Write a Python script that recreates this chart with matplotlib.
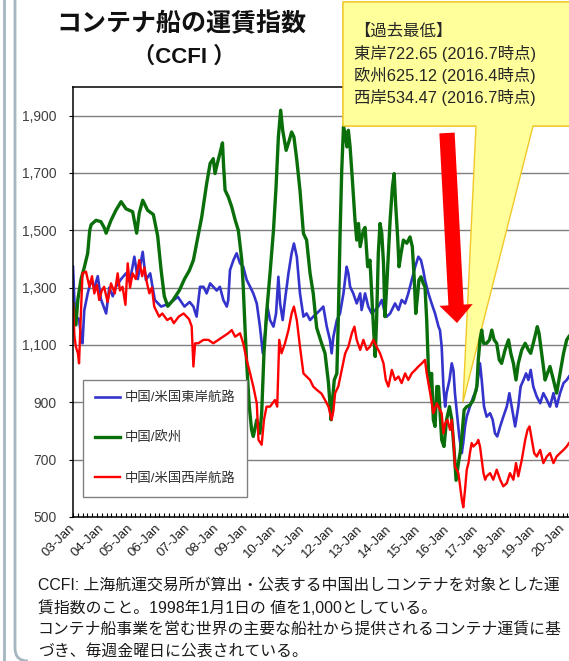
import matplotlib
matplotlib.use("Agg")
import matplotlib.pyplot as plt
from matplotlib.patches import Polygon, FancyArrowPatch, ArrowStyle, PathPatch
from matplotlib.path import Path
from matplotlib.lines import Line2D
from matplotlib.ticker import MultipleLocator, FuncFormatter
from matplotlib.transforms import Bbox, TransformedBbox

# --- data (decimal years) ---
east_x = [2003.00, 2003.05, 2003.10, 2003.21, 2003.28, 2003.33, 2003.39, 2003.51, 2003.63, 2003.74,
          2003.86, 2003.97, 2004.15, 2004.26, 2004.38, 2004.49, 2004.67, 2004.84, 2004.97, 2005.13,
          2005.25, 2005.42, 2005.53, 2005.68, 2005.84, 2006.06, 2006.35, 2006.64, 2006.87, 2007.05,
          2007.18, 2007.29, 2007.41, 2007.53, 2007.64, 2007.76, 2007.87, 2007.99, 2008.10, 2008.22,
          2008.34, 2008.39, 2008.45, 2008.57, 2008.68, 2008.80, 2008.91, 2009.03, 2009.15, 2009.26,
          2009.38, 2009.49, 2009.59, 2009.67, 2009.75, 2009.84, 2009.96, 2010.05, 2010.13, 2010.19,
          2010.28, 2010.36, 2010.48, 2010.59, 2010.67, 2010.77, 2010.88, 2011.00, 2011.11, 2011.23,
          2011.34, 2011.46, 2011.58, 2011.69, 2011.81, 2011.92, 2011.98, 2012.04, 2012.16, 2012.27,
          2012.39, 2012.50, 2012.56, 2012.62, 2012.73, 2012.85, 2012.97, 2013.02, 2013.14, 2013.25,
          2013.37, 2013.49, 2013.60, 2013.72, 2013.83, 2013.89, 2014.01, 2014.18, 2014.30, 2014.41,
          2014.53, 2014.64, 2014.76, 2014.88, 2014.99, 2015.08, 2015.16, 2015.22, 2015.34, 2015.45,
          2015.57, 2015.69, 2015.74, 2015.80, 2015.86, 2015.92, 2015.97, 2016.07, 2016.15, 2016.21,
          2016.26, 2016.35, 2016.41, 2016.50, 2016.55, 2016.61, 2016.67, 2016.78, 2016.90, 2017.00,
          2017.07, 2017.13, 2017.19, 2017.27, 2017.36, 2017.48, 2017.57, 2017.65, 2017.73, 2017.83,
          2017.94, 2018.06, 2018.15, 2018.23, 2018.35, 2018.46, 2018.54, 2018.64, 2018.73, 2018.81,
          2018.89, 2018.98, 2019.10, 2019.22, 2019.33, 2019.45, 2019.56, 2019.68, 2019.79, 2019.91,
          2020.03, 2020.14, 2020.22]
east_y = [1373, 1250, 1199, 1190, 1130, 1106, 1220, 1280, 1327, 1300,
          1340, 1260, 1210, 1300, 1270, 1303, 1330, 1350, 1320, 1408,
          1330, 1425, 1327, 1350, 1257, 1234, 1245, 1268, 1234, 1250,
          1234, 1199, 1303, 1303, 1280, 1315, 1303, 1290, 1303, 1257,
          1234, 1257, 1361, 1396, 1420, 1385, 1373, 1327, 1303, 1280,
          1245, 1164, 1071, 1141, 1234, 1187, 1164, 1210, 1338, 1245,
          1187, 1257, 1350, 1420, 1454, 1408, 1280, 1199, 1210, 1187,
          1199, 1210, 1222, 1234, 1164, 1118, 1071, 1129, 1187, 1210,
          1280, 1373, 1350, 1303, 1280, 1245, 1280, 1222, 1280, 1234,
          1210, 1222, 1234, 1257, 1210, 1199, 1210, 1245, 1222, 1257,
          1245, 1280, 1327, 1373, 1408, 1396, 1361, 1327, 1280, 1245,
          1210, 1164, 1152, 1094, 955, 885, 932, 978, 1036, 1010,
          932, 839, 781, 723, 760, 816, 850, 885, 920, 940,
          990, 1036, 978, 885, 850, 862, 839, 792, 781, 816,
          850, 885, 932, 885, 816, 885, 955, 978, 1001, 978,
          1013, 955, 920, 897, 932, 909, 885, 932, 885, 932,
          967, 978, 990]

euro_x = [2003.00, 2003.05, 2003.10, 2003.17, 2003.28, 2003.39, 2003.51, 2003.58, 2003.63, 2003.80,
          2003.97, 2004.08, 2004.15, 2004.32, 2004.49, 2004.67, 2004.84, 2005.07, 2005.21, 2005.30,
          2005.42, 2005.59, 2005.79, 2005.94, 2006.06, 2006.17, 2006.29, 2006.46, 2006.69, 2006.87,
          2007.04, 2007.18, 2007.29, 2007.47, 2007.64, 2007.76, 2007.87, 2007.93, 2008.01, 2008.10,
          2008.19, 2008.23, 2008.28, 2008.39, 2008.51, 2008.63, 2008.74, 2008.86, 2008.91, 2008.97,
          2009.03, 2009.12, 2009.20, 2009.26, 2009.38, 2009.49, 2009.55, 2009.63, 2009.72, 2009.84,
          2009.96, 2010.05, 2010.13, 2010.21, 2010.28, 2010.40, 2010.51, 2010.59, 2010.67, 2010.77,
          2010.88, 2011.00, 2011.11, 2011.23, 2011.34, 2011.46, 2011.63, 2011.75, 2011.87, 2011.96,
          2012.00, 2012.07, 2012.16, 2012.21, 2012.27, 2012.33, 2012.39, 2012.45, 2012.51, 2012.56,
          2012.62, 2012.70, 2012.79, 2012.85, 2012.91, 2012.97, 2013.08, 2013.14, 2013.23, 2013.31,
          2013.37, 2013.43, 2013.49, 2013.54, 2013.60, 2013.66, 2013.72, 2013.78, 2013.83, 2013.89,
          2013.95, 2014.01, 2014.09, 2014.15, 2014.20, 2014.27, 2014.32, 2014.39, 2014.47, 2014.59,
          2014.70, 2014.78, 2014.85, 2014.90, 2014.97, 2015.01, 2015.08, 2015.16, 2015.22, 2015.28,
          2015.34, 2015.40, 2015.45, 2015.51, 2015.57, 2015.63, 2015.69, 2015.74, 2015.80, 2015.88,
          2015.97, 2016.07, 2016.15, 2016.23, 2016.30, 2016.38, 2016.44, 2016.50, 2016.58, 2016.67,
          2016.78, 2016.90, 2017.02, 2017.07, 2017.13, 2017.19, 2017.25, 2017.36, 2017.46, 2017.54,
          2017.62, 2017.71, 2017.80, 2017.88, 2018.00, 2018.12, 2018.20, 2018.29, 2018.38, 2018.46,
          2018.58, 2018.70, 2018.81, 2018.89, 2019.01, 2019.12, 2019.18, 2019.27, 2019.39, 2019.47,
          2019.56, 2019.68, 2019.79, 2019.91, 2020.03, 2020.14, 2020.22]
euro_y = [1245, 1180, 1170, 1260, 1330, 1370, 1420, 1500, 1520, 1535,
          1530, 1510, 1490, 1535, 1570, 1600, 1575, 1565, 1490, 1560,
          1605, 1570, 1555, 1480, 1360, 1270, 1235, 1255, 1290, 1330,
          1360, 1396, 1454, 1547, 1663, 1733, 1750, 1698, 1733, 1768,
          1805, 1721, 1640, 1617, 1582, 1536, 1500, 1396, 1303, 1164,
          1036, 885, 804, 781, 839, 792, 862, 1071, 1210, 1350,
          1500, 1652, 1826, 1919, 1849, 1779, 1814, 1843, 1826, 1745,
          1640, 1489, 1466, 1350, 1280, 1160, 1106, 1071, 967, 839,
          897, 978, 1001, 1187, 1477, 1710, 1861, 1837, 1791, 1849,
          1791, 1675, 1536, 1466, 1524, 1443, 1500, 1510, 1373, 1396,
          1280, 1164, 1060, 1187, 1420, 1524, 1489, 1385, 1199, 1303,
          1420, 1536, 1652, 1698, 1594, 1477, 1373, 1420, 1466, 1455,
          1477, 1443, 1327, 1210, 1280, 1327, 1338, 1315, 1303, 1187,
          1013, 955, 1001, 839, 816, 955, 955, 870, 769, 746,
          839, 885, 839, 734, 628, 688, 723, 781, 874, 885,
          890, 909, 955, 1048, 1118, 1152, 1106, 1106, 1118, 1152,
          1118, 1106, 1048, 1036, 1083, 1118, 1071, 1036, 978, 1036,
          1083, 1106, 1083, 1071, 1118, 1164, 1141, 1071, 978, 1001,
          1025, 978, 932, 1001, 1071, 1118, 1130]

west_x = [2003.00, 2003.05, 2003.10, 2003.17, 2003.21, 2003.27, 2003.33, 2003.45, 2003.57, 2003.66,
          2003.74, 2003.83, 2003.91, 2004.00, 2004.08, 2004.20, 2004.32, 2004.45, 2004.55, 2004.63,
          2004.72, 2004.82, 2004.90, 2004.98, 2005.07, 2005.18, 2005.30, 2005.40, 2005.48, 2005.56,
          2005.65, 2005.74, 2005.82, 2005.91, 2005.99, 2006.10, 2006.27, 2006.40, 2006.50, 2006.67,
          2006.84, 2007.03, 2007.12, 2007.18, 2007.24, 2007.35, 2007.53, 2007.70, 2007.87, 2008.05,
          2008.22, 2008.39, 2008.51, 2008.63, 2008.80, 2008.91, 2009.03, 2009.15, 2009.26, 2009.38,
          2009.44, 2009.55, 2009.63, 2009.72, 2009.84, 2010.01, 2010.09, 2010.16, 2010.24, 2010.36,
          2010.48, 2010.59, 2010.67, 2010.77, 2010.88, 2011.00, 2011.11, 2011.23, 2011.34, 2011.46,
          2011.63, 2011.75, 2011.87, 2011.98, 2012.04, 2012.10, 2012.21, 2012.33, 2012.45, 2012.56,
          2012.68, 2012.77, 2012.85, 2012.97, 2013.08, 2013.20, 2013.31, 2013.43, 2013.54, 2013.66,
          2013.78, 2013.86, 2013.95, 2014.07, 2014.18, 2014.30, 2014.41, 2014.53, 2014.64, 2014.76,
          2014.88, 2014.99, 2015.11, 2015.22, 2015.28, 2015.40, 2015.51, 2015.63, 2015.74, 2015.80,
          2015.86, 2015.92, 2016.00, 2016.09, 2016.15, 2016.21, 2016.26, 2016.32, 2016.38, 2016.44,
          2016.50, 2016.55, 2016.61, 2016.67, 2016.73, 2016.78, 2016.84, 2016.90, 2017.02, 2017.07,
          2017.13, 2017.19, 2017.25, 2017.31, 2017.36, 2017.48, 2017.59, 2017.71, 2017.83, 2017.94,
          2018.06, 2018.17, 2018.29, 2018.38, 2018.46, 2018.58, 2018.70, 2018.78, 2018.85, 2018.93,
          2019.01, 2019.10, 2019.22, 2019.33, 2019.45, 2019.56, 2019.68, 2019.79, 2019.91, 2020.03,
          2020.14, 2020.22]
west_y = [1245, 1130, 1094, 1071, 1036, 1200, 1350, 1356, 1303, 1340,
          1280, 1310, 1257, 1290, 1303, 1250, 1315, 1280, 1350, 1290,
          1303, 1240, 1385, 1300, 1350, 1330, 1396, 1340, 1370, 1320,
          1280, 1300, 1234, 1215, 1199, 1210, 1187, 1195, 1176, 1199,
          1210, 1190, 1165, 1025, 1106, 1106, 1118, 1118, 1106, 1118,
          1129, 1141, 1152, 1129, 1141, 1106, 1048, 1001, 955, 897,
          769, 752, 839, 885, 885, 908, 885, 1118, 1071, 1106,
          1152, 1210, 1234, 1187, 1094, 1001, 990, 978, 955, 944,
          930, 908, 885, 839, 870, 932, 955, 1013, 1071, 1094,
          1141, 1164, 1118, 1083, 1118, 1083, 1094, 1118, 1094, 1071,
          1036, 978, 955, 1013, 978, 990, 967, 1001, 978, 1001,
          1013, 1025, 1036, 1048, 1001, 932, 862, 897, 874, 862,
          792, 827, 839, 804, 839, 769, 676, 665, 653, 607,
          560, 534, 595, 665, 688, 723, 758, 746, 758, 769,
          746, 699, 653, 630, 642, 653, 630, 665, 630, 607,
          618, 653, 630, 688, 642, 699, 769, 804, 816, 769,
          723, 711, 734, 688, 711, 723, 688, 711, 723, 734,
          746, 758]

series_names = ["中国/米国東岸航路", "中国/欧州", "中国/米国西岸航路"]
series_colors = ["#3434cc", "#0a6e0a", "#ff0000"]

tick_years = list(range(2003, 2021))
tick_labels = ["03-Jan", "04-Jan", "05-Jan", "06-Jan", "07-Jan", "08-Jan", "09-Jan", "10-Jan", "11-Jan",
               "12-Jan", "13-Jan", "14-Jan", "15-Jan", "16-Jan", "17-Jan", "18-Jan", "19-Jan", "20-Jan"]
y_ticks = [500, 700, 900, 1100, 1300, 1500, 1700, 1900]

title_text = "コンテナ船の運賃指数"
subtitle_text = "（CCFI ）"
callout_lines = ["【過去最低】", "東岸722.65 (2016.7時点)", "欧州625.12 (2016.4時点)", "西岸534.47 (2016.7時点)"]
note_lines = ["CCFI: 上海航運交易所が算出・公表する中国出しコンテナを対象とした運",
              "賃指数のこと。1998年1月1日の 値を1,000としている。",
              "コンテナ船事業を営む世界の主要な船社から提供されるコンテナ運賃に基",
              "づき、毎週金曜日に公表されている。"]

JP = ["Liberation Sans", "Noto Sans CJK JP"]
W, H = 569, 661


def fx(x):
    return x / W


def fy(y):
    return 1 - y / H


fig = plt.figure(figsize=(W / 100, H / 100), dpi=100)
fig.patch.set_facecolor("white")
ax = fig.add_axes([fx(73), fy(517), (W - 73) / W, (517 - 87) / H])

ax.plot(east_x, east_y, color=series_colors[0], lw=1.9, label=series_names[0], zorder=2)
ax.plot(euro_x, euro_y, color=series_colors[1], lw=2.4, label=series_names[1], zorder=2)
ax.plot(west_x, west_y, color=series_colors[2], lw=1.7, label=series_names[2], zorder=2)

ax.set_xlim(2003.0, 2020.22)
ax.set_ylim(500, 2000)
ax.set_axisbelow(True)
ax.set_yticks(y_ticks)
ax.yaxis.set_major_formatter(FuncFormatter(lambda v, p: f"{int(v):,}"))
ax.grid(axis="y", color="#7f7f7f", lw=1.0)
ax.set_xticks(tick_years)
ax.set_xticklabels(tick_labels, rotation=45, ha="right", va="center", rotation_mode="anchor",
                   fontsize=9.5, family=JP, color="#202020")
ax.xaxis.set_minor_locator(MultipleLocator(1 / 6))
ax.tick_params(axis="x", which="both", direction="in", length=3, width=0.8, pad=7)
ax.tick_params(axis="y", direction="out", length=3, width=0.8, pad=9, labelsize=10,
               labelcolor="#404040")
for lab in ax.get_yticklabels():
    lab.set_family(JP)
ax.spines["right"].set_visible(False)
for s in ["left", "bottom", "top"]:
    ax.spines[s].set_linewidth(1.1)
    ax.spines[s].set_color("black")

leg = ax.legend(loc="upper left", bbox_to_anchor=(0.02, 0.319), borderaxespad=0,
                prop={"family": JP, "size": 9.6}, handlelength=1.9, handletextpad=0.3,
                labelspacing=2.05, borderpad=0.9, fancybox=False, framealpha=1,
                edgecolor="#808080")
leg.get_frame().set_linewidth(1.0)
for t in leg.get_texts():
    t.set_color("#303030")

# callout (speech bubble): pointer under the lines, box over everything
bubble = [(343, 2), (343, 126), (476, 126), (463, 402), (533, 126), (580, 126), (580, 2)]
bubble_pts = [(fx(a), fy(b)) for a, b in bubble]
low = Polygon(bubble_pts, closed=True, transform=fig.transFigure, facecolor="#ffff9c",
              edgecolor="#f0c828", lw=1.0, zorder=1.8, clip_on=False)
ax.add_patch(low)
high = Polygon(bubble_pts, closed=True, transform=fig.transFigure, facecolor="#ffff9c",
               edgecolor="#f0c828", lw=1.0, zorder=3)
high.set_clip_box(TransformedBbox(Bbox([[0, fy(127)], [1, 1]]), fig.transFigure))
fig.add_artist(high)

arrow = FancyArrowPatch((fx(447), fy(133)), (fx(457), fy(323)), transform=fig.transFigure,
                        arrowstyle=ArrowStyle.Simple(head_length=13, head_width=24, tail_width=11),
                        mutation_scale=1, shrinkA=0, shrinkB=0, color="#ff0000", lw=0, zorder=4)
fig.add_artist(arrow)

for i, line in enumerate(callout_lines):
    fig.text(fx(354), fy(31 + 22 * i), line, family=JP, fontsize=11.8, color="#262626",
             va="center", ha="left", zorder=5)

fig.text(fx(181), fy(24), title_text, family=JP, fontsize=18, fontweight="bold",
         ha="center", va="center", color="#111111")
fig.text(fx(184), fy(57), subtitle_text, family=JP, fontsize=16, fontweight="bold",
         ha="center", va="center", color="#111111")

for i, line in enumerate(note_lines):
    fig.text(fx(38), fy(586 + 22 * i), line, family=JP, fontsize=11.4, color="#1a1a1a",
             ha="left", va="center")

# slide frame on the left
fig.add_artist(Line2D([fx(4), fx(4)], [0, 1], transform=fig.transFigure, color="#a4b6c0", lw=2))
frame = Path([(fx(15), 1), (fx(15), fy(648)), (fx(15), fy(661)), (fx(28), fy(661))],
             [Path.MOVETO, Path.LINETO, Path.CURVE3, Path.CURVE3])
fig.add_artist(PathPatch(frame, transform=fig.transFigure, fill=False, edgecolor="#a4b6c0", lw=2))

fig.savefig("out.png", dpi=100)
